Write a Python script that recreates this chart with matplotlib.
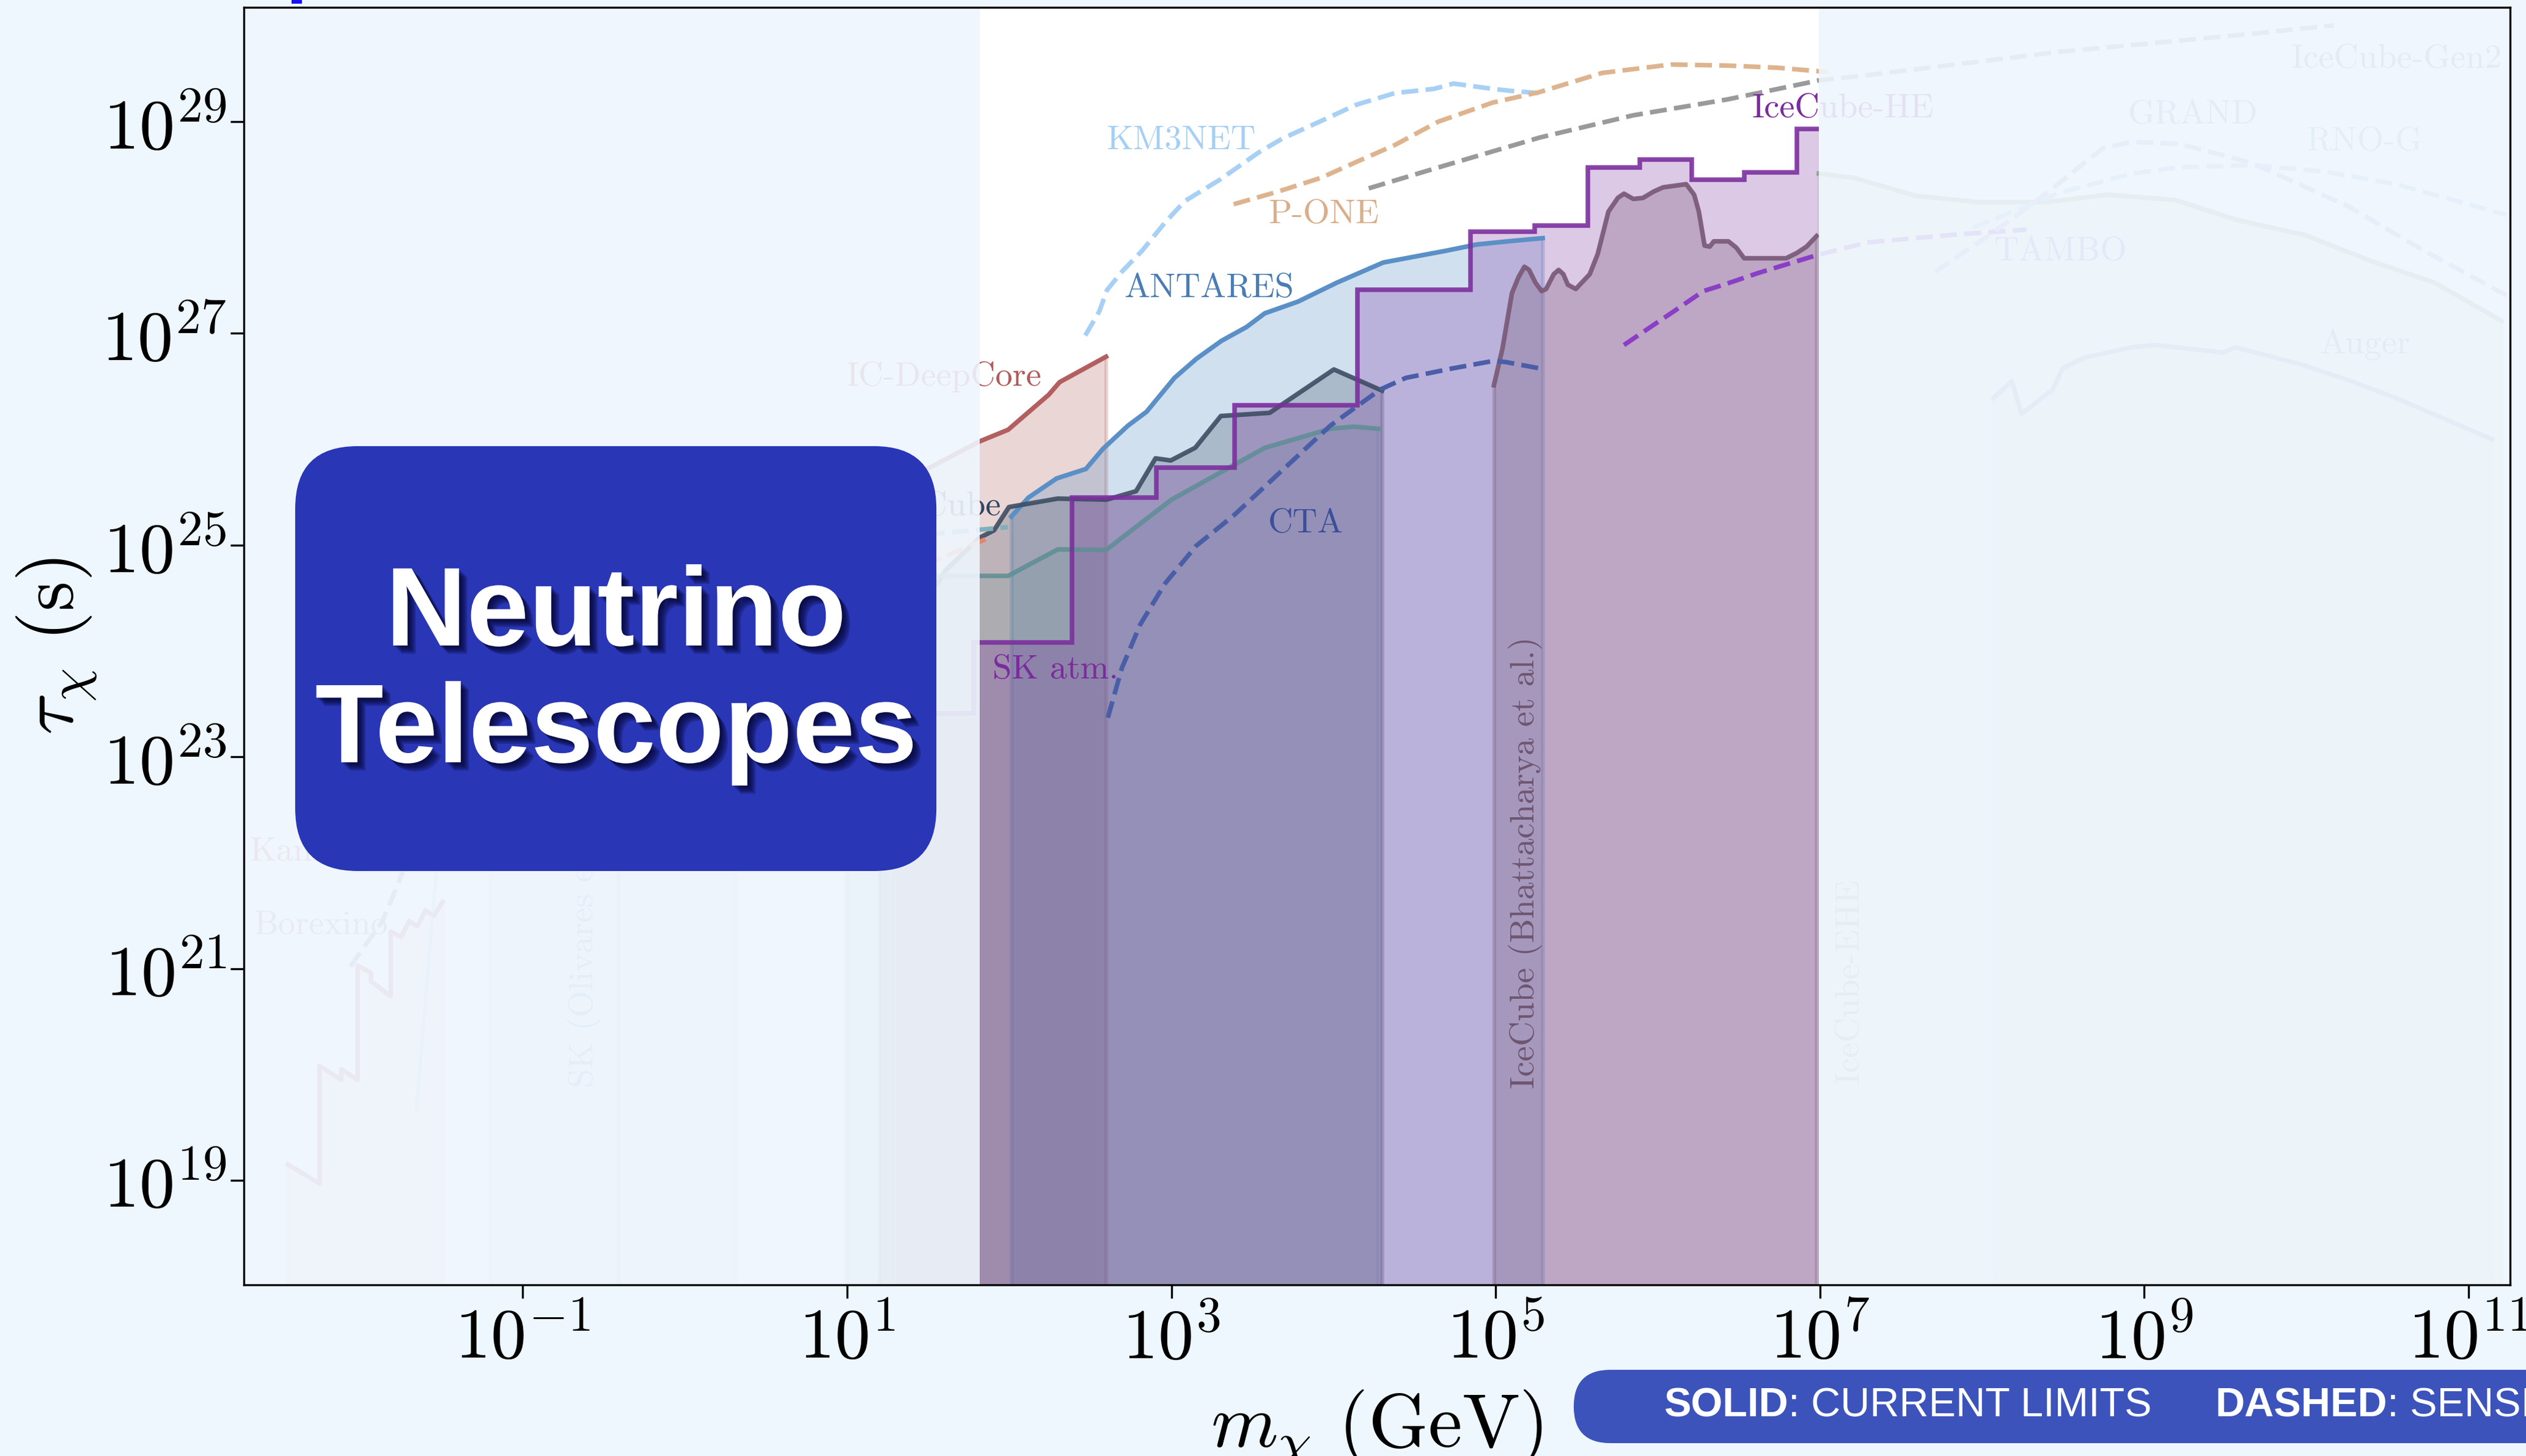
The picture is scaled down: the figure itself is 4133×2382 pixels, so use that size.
import numpy as np
import matplotlib
matplotlib.use("Agg")
import matplotlib.pyplot as plt
from matplotlib.patches import FancyBboxPatch, Rectangle
from matplotlib import patheffects as pe
from matplotlib.ticker import NullLocator, FuncFormatter

plt.rcParams['mathtext.fontset'] = 'cm'

# --- data as log10(m / GeV) and log10(tau / s) ---
deepcore_m = [1.2, 1.444, 1.817, 1.993, 2.243, 2.311, 2.597]
deepcore_t = [25.48, 25.68, 25.98, 26.09, 26.42, 26.54, 26.78]

icecube_m = [1.2, 1.554, 1.606, 1.817, 1.906, 1.998, 2.299, 2.601, 2.782, 2.902,
             2.996, 3.147, 3.305, 3.606, 4.002, 4.299]
icecube_t = [24.3, 24.63, 24.76, 25.07, 25.14, 25.36, 25.44, 25.43, 25.51, 25.82,
             25.80, 25.92, 26.22, 26.25, 26.66, 26.46]

antares_m = [2.013, 2.119, 2.292, 2.473, 2.578, 2.733, 2.847, 3.019, 3.154, 3.309,
             3.463, 3.576, 3.78, 4.021, 4.307, 4.691, 4.883, 5.075, 5.29]
antares_t = [25.27, 25.45, 25.63, 25.72, 25.91, 26.13, 26.26, 26.58, 26.76, 26.93,
             27.06, 27.19, 27.30, 27.48, 27.67, 27.78, 27.84, 27.87, 27.90]

teal_m = [1.0, 1.554, 1.817, 1.993, 2.299, 2.597, 3.0, 3.576, 3.981, 4.126, 4.275]
teal_t = [24.71, 24.71, 24.71, 24.71, 24.96, 24.955, 25.43, 25.92, 26.10, 26.12, 26.10]

sk_edges = [1.3, 1.78, 2.386, 2.906, 3.388, 4.149, 4.846, 5.241, 5.567, 5.888,
            6.209, 6.532, 6.857, 6.993]
sk_vals = [23.41, 24.08, 25.45, 25.73, 26.32, 27.41, 27.96, 28.02, 28.57, 28.64,
           28.45, 28.52, 28.93]

cta_m = [2.608, 2.695, 2.808, 2.962, 3.154, 3.384, 3.693, 3.981, 4.288, 4.446,
         4.735, 4.985, 5.06, 5.271]
cta_t = [23.37, 23.84, 24.25, 24.64, 24.995, 25.28, 25.72, 26.13, 26.47, 26.58,
         26.67, 26.74, 26.73, 26.67]

km3_m = [2.469, 2.556, 2.603, 2.699, 2.819, 2.962, 3.083, 3.297, 3.539, 3.684,
         3.9, 4.141, 4.378, 4.619, 4.74, 4.981, 5.102, 5.267]
km3_t = [26.98, 27.21, 27.41, 27.59, 27.78, 28.05, 28.25, 28.45, 28.71, 28.84,
         28.99, 29.16, 29.27, 29.31, 29.36, 29.31, 29.29, 29.27]

pone_m = [3.384, 3.659, 3.923, 4.141, 4.379, 4.646, 4.981, 5.271, 5.655, 6.081,
          6.428, 6.733, 6.962, 7.05]
pone_t = [28.22, 28.34, 28.47, 28.62, 28.78, 29.0, 29.18, 29.28, 29.46, 29.54,
          29.53, 29.51, 29.48, 29.47]

gen2_m = [4.217, 4.695, 5.271, 5.848, 6.428, 6.993, 7.294, 8.48, 9.663, 10.168]
gen2_t = [28.37, 28.59, 28.85, 29.06, 29.21, 29.39, 29.44, 29.66, 29.83, 29.91]

bhat_m = [4.989, 5.042, 5.100, 5.14, 5.177, 5.206, 5.245, 5.283, 5.311, 5.358,
          5.388, 5.417, 5.445, 5.494, 5.58, 5.629, 5.695, 5.753, 5.791, 5.849,
          5.908, 5.974, 6.032, 6.175, 6.224, 6.253, 6.288, 6.320, 6.345, 6.435,
          6.484, 6.532, 6.791, 6.857, 6.917, 6.979]
bhat_t = [26.51, 26.86, 27.38, 27.53, 27.63, 27.60, 27.48, 27.40, 27.42, 27.56,
          27.60, 27.56, 27.46, 27.42, 27.56, 27.75, 28.15, 28.28, 28.32, 28.27,
          28.28, 28.34, 28.38, 28.41, 28.31, 28.15, 27.83, 27.82, 27.87, 27.87,
          27.81, 27.71, 27.71, 27.76, 27.82, 27.92]

tambo_m = [5.791, 5.964, 6.1, 6.281, 6.426, 6.618, 6.81, 6.983, 7.294, 7.887, 8.273]
tambo_t = [26.89, 27.07, 27.21, 27.40, 27.47, 27.57, 27.66, 27.74, 27.86, 27.94, 27.98]

ehe_m = [6.993, 7.207, 7.591, 7.975, 8.39, 8.774, 9.19, 9.576, 9.99, 10.405,
         10.789, 11.203]
ehe_t = [28.51, 28.47, 28.30, 28.24, 28.24, 28.31, 28.26, 28.07, 27.93, 27.68,
         27.48, 27.12]

auger_m = [8.07, 8.183, 8.243, 8.435, 8.496, 8.627, 8.925, 9.072, 9.486, 9.561,
           9.96, 10.258, 10.552, 11.145]
auger_t = [26.39, 26.55, 26.24, 26.47, 26.67, 26.77, 26.87, 26.89, 26.82, 26.87,
           26.71, 26.56, 26.39, 26.0]

grand_m = [7.708, 8.036, 8.36, 8.746, 8.925, 9.219, 9.663, 10.258, 10.703, 11.234]
grand_t = [27.58, 27.92, 28.28, 28.75, 28.81, 28.79, 28.61, 28.20, 27.80, 27.36]

rnog_m = [7.945, 8.48, 8.925, 9.219, 9.663, 10.107, 10.552, 11.234]
rnog_t = [28.0, 28.33, 28.51, 28.57, 28.59, 28.53, 28.41, 28.12]

kam_m = [-2.449, -2.253, -2.253, -2.119, -2.119, -2.019, -2.019, -1.936, -1.936,
         -1.815, -1.815, -1.75, -1.70, -1.65, -1.60, -1.55, -1.494]
kam_t = [19.15, 18.97, 20.08, 19.95, 20.05, 19.95, 21.03, 20.96, 20.88,
         20.74, 21.35, 21.30, 21.45, 21.40, 21.55, 21.50, 21.63]

borex_m = [-2.064, -1.868, -1.772, -1.734, -1.6]
borex_t = [21.02, 21.44, 21.79, 21.94, 22.6]

steep_m = [-1.657, -1.532, -1.45]
steep_t = [19.66, 21.94, 23.0]

olivares_m = [[-1.2, -0.41], [-0.41, 0.318], [0.99, 1.29]]
olivares_t = [24.0, 24.5, 24.8]

upg_m = [1.2, 1.554, 1.993]
upg_t = [25.05, 25.11, 25.17]
salmon_m = [1.2, 1.554, 1.89]
salmon_t = [24.65, 24.86, 25.08]

XMIN, XMAX = -2.72, 11.256
YMIN, YMAX = 18.013, 30.08
BASE = 1e17

fig = plt.figure(figsize=(4133 / 300, 2382 / 300), dpi=300, facecolor='#eef7fe')
ax = fig.add_axes([0.09654, 0.11755, 0.89717, 0.87741])
ax.set_facecolor('white')
ax.set_xscale('log')
ax.set_yscale('log')


def curve(lm, lt, color, ls='-', lw=1.8, alpha=1.0, fill=None, z=3):
    x = 10 ** np.array(lm, dtype=float)
    y = 10 ** np.array(lt, dtype=float)
    if fill is not None:
        ax.fill_between(x, y, BASE, color=color, alpha=fill, lw=1.5, zorder=z - 1)
    ax.plot(x, y, color=color, ls=ls, lw=lw, alpha=alpha, zorder=z)


# left (faded) region
curve(kam_m, kam_t, '#c07c98', fill=0.2)
curve(borex_m, borex_t, '#a890b8', ls='--')
curve(steep_m, steep_t, '#88aed0', lw=1.2, alpha=0.5)
for (a, b), top in zip(olivares_m, olivares_t):
    ax.fill_between(10 ** np.array([a, b]), 10 ** top, BASE, color='#8fb3dc',
                    alpha=0.25, lw=1.5, zorder=2)

# middle region
curve(deepcore_m, deepcore_t, '#b35f5f', fill=0.25)
curve(antares_m, antares_t, '#5b90c6', fill=0.28)
curve(icecube_m, icecube_t, '#3b4b60', alpha=0.85, fill=0.25)
curve(teal_m, teal_t, '#5f8f96', alpha=0.85, fill=0.18)
ax.stairs(10 ** np.array(sk_vals), 10 ** np.array(sk_edges), baseline=BASE,
          fill=True, color='#7b2f9e', alpha=0.26, zorder=2)
ax.stairs(10 ** np.array(sk_vals), 10 ** np.array(sk_edges), baseline=None,
          color='#7b2f9e', lw=1.8, alpha=0.9, zorder=3)
curve(bhat_m, bhat_t, '#7a5a78', alpha=0.9, fill=0.3)
curve(upg_m, upg_t, '#7fb0bc', ls='--')
curve(salmon_m, salmon_t, '#e8836a', ls='--')
curve(cta_m, cta_t, '#4a5ea8', ls='--')
curve(km3_m, km3_t, '#a8d0f5', ls='--')
curve(pone_m, pone_t, '#deb48f', ls='--')
curve(gen2_m, gen2_t, '#9a9a9a', ls='--')
curve(tambo_m, tambo_t, '#8a3fc6', ls='--')

# right (faded) region
curve(ehe_m, ehe_t, '#8fa88f', fill=0.2)
curve(auger_m, auger_t, '#9c9cb8', fill=0.2)
curve(grand_m, grand_t, '#b89ad8', ls='--')
curve(rnog_m, rnog_t, '#9cc2e6', ls='--')

# labels: (text, log m, log tau, color, ha, rotation)
labels = [
    ('IC-DeepCore', 0.996, 26.59, '#b15a5a', 'left', 0),
    ('IceCube', 1.949, 25.36, '#2f4560', 'right', 0),
    ('SK atm.', 1.896, 23.82, '#7a2c9c', 'left', 0),
    ('CTA', 3.597, 25.20, '#3a4f9a', 'left', 0),
    ('ANTARES', 2.71, 27.42, '#4a7db3', 'left', 0),
    ('KM3NET', 2.6, 28.82, '#a5cff5', 'left', 0),
    ('P-ONE', 3.599, 28.12, '#d9ae8a', 'left', 0),
    ('IceCube-HE', 6.582, 29.12, '#7a2c9c', 'left', 0),
    ('IceCube (Bhattacharya et al.)', 5.185, 22.0, '#6e5670', 'center', 90),
    ('IceCube-EHE', 7.186, 20.88, '#8fa88f', 'center', 90),
    ('KamLAND', -2.685, 22.1, '#d07070', 'left', 0),
    ('Borexino', -2.66, 21.41, '#b08aa8', 'left', 0),
    ('TAMBO', 8.076, 27.77, '#8a6fd0', 'left', 0),
    ('GRAND', 8.9, 29.06, '#a080c8', 'left', 0),
    ('RNO-G', 9.997, 28.81, '#80a8d8', 'left', 0),
    ('IceCube-Gen2', 9.903, 29.59, '#8a8aa8', 'left', 0),
    ('Auger', 10.08, 26.90, '#9090a8', 'left', 0),
]
for txt, lm, lt, col, ha, rot in labels:
    ax.text(10 ** lm, 10 ** lt, txt, color=col, fontsize=13.5, family='cmr10',
            ha=ha, va='center', rotation=rot, zorder=10)
ax.text(10 ** -0.62, 10 ** 19.88, 'SK (Olivares et al.)', color='#7fa8d0',
        fontsize=13.5, family='cmr10', ha='center', va='bottom', rotation=90, zorder=10)

# faded overlays outside the highlighted mass range
ax.axvspan(10 ** XMIN, 10 ** 1.817, facecolor='#eff6fd', alpha=0.9, lw=0, zorder=50)
ax.axvspan(10 ** 6.993, 10 ** XMAX, facecolor='#eff6fd', alpha=0.9, lw=0, zorder=50)

ax.set_xlim(10 ** XMIN, 10 ** XMAX)
ax.set_ylim(10 ** YMIN, 10 ** YMAX)
ax.set_xticks([10.0 ** k for k in range(-1, 12, 2)])
ax.set_yticks([10.0 ** k for k in range(19, 30, 2)])
ax.xaxis.set_minor_locator(NullLocator())
ax.yaxis.set_minor_locator(NullLocator())
pow_fmt = FuncFormatter(lambda v, p: r'$10^{%d}$' % int(round(np.log10(v))))
ax.xaxis.set_major_formatter(pow_fmt)
ax.yaxis.set_major_formatter(pow_fmt)
ax.tick_params(direction='out', length=5.3, width=0.8, labelsize=28)
ax.tick_params(axis='x', pad=2)
ax.tick_params(axis='y', pad=1.5)
for s in ax.spines.values():
    s.set_linewidth(0.8)
    s.set_zorder(60)

ax.set_xlabel(r'$m_\chi\ (\mathrm{GeV})$', fontsize=30, labelpad=6)
ax.set_ylabel(r'$\tau_\chi\ (\mathrm{s})$', fontsize=30)
ax.yaxis.set_label_coords(-0.064, 0.5)

# title box
inch = fig.dpi_scale_trans
box = FancyBboxPatch((1.61, 3.19), 3.497, 2.317, boxstyle='round,pad=0,rounding_size=0.34',
                     transform=inch, facecolor='#2936b6', edgecolor='none', zorder=100)
fig.patches.append(box)
shadow = [pe.SimplePatchShadow(offset=(d, -d), shadow_rgbFace='#000020', alpha=0.22)
          for d in (0.8, 1.4, 2.0, 2.6, 3.2)]
for word, yb in (('Neutrino', 4.42), ('Telescopes', 3.783)):
    fig.text(3.36, yb, word, transform=inch, ha='center', va='baseline', fontsize=44,
             fontweight='bold', family='Liberation Sans', color='white', zorder=101,
             path_effects=shadow + [pe.Normal()])

# legend pill at the bottom
pill = FancyBboxPatch((8.583, 0.07), 6.0, 0.4, boxstyle='round,pad=0,rounding_size=0.2',
                      transform=inch, facecolor='#3c53bb', edgecolor='none', zorder=100)
fig.patches.append(pill)
renderer = fig.canvas.get_renderer()
for x0, parts in ((9.073, [('SOLID', 'bold'), (': CURRENT LIMITS', 'normal')]),
                  (12.083, [('DASHED', 'bold'), (': SENSITIVITIES', 'normal')])):
    x = x0
    for s, w in parts:
        t = fig.text(x, 0.27, s, transform=inch, ha='left', va='center', fontsize=16,
                     fontweight=w, family='Liberation Sans', color='white', zorder=101)
        x += t.get_window_extent(renderer).width / fig.dpi

fig.patches.append(Rectangle((477 / 300, (2382 - 6) / 300), 17 / 300, 6 / 300,
                             transform=inch, facecolor='#1414f5', edgecolor='none'))

fig.savefig('out.png', dpi=300, facecolor=fig.get_facecolor())
